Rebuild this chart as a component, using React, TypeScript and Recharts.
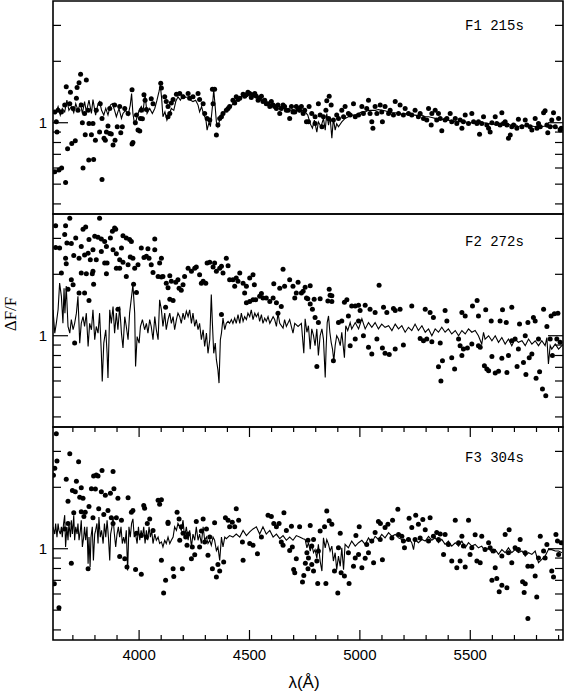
import React from 'react';
import { ComposedChart, Line, Scatter, XAxis, YAxis, ReferenceArea } from 'recharts';

// wavelength ticks (Angstrom) and flux-ratio ticks
const wlTicks = [3700, 3800, 3900, 4000, 4100, 4200, 4300, 4400, 4500, 4600, 4700, 4800, 4900, 5000, 5100, 5200, 5300, 5400, 5500, 5600, 5700, 5800, 5900];
const wlLabels = [4000, 4500, 5000, 5500];
const ratioTicks = [0.4, 0.5, 0.6, 0.7, 0.8, 0.9, 1, 2, 3];
const ratioLabels = [1];

const panelNames = ['F1 215s', 'F2 272s', 'F3 304s'];

// [wavelength, dF/F]
const f1Model = [
  [3610, 1.15], [3622, 1.11], [3633, 1.2], [3643, 1.09], [3652, 1.175], [3663, 1.13], [3673, 1.29], [3682, 1.15], [3693, 1.2], [3704, 1.12],
  [3713, 1.24], [3723, 1.15], [3734, 1.25], [3743, 1.11], [3753, 1.27], [3761, 1.13], [3773, 1.29], [3784, 1.11], [3791, 1.3], [3803, 1.09],
  [3814, 1.24], [3821, 1.27], [3830, 1.15], [3840, 1.09], [3849, 1.175], [3859, 1.09], [3870, 1.22], [3879, 1.24], [3889, 1.15], [3897, 1.07],
  [3909, 1.175], [3920, 1.05], [3927, 1.11], [3939, 1.15], [3950, 1.09], [3960, 1.22], [3966, 1.39], [3972, 1.11], [3980, 0.974], [3988, 1.04],
  [4000, 1.15], [4010, 1.2], [4018, 1.145], [4027, 1.37], [4036, 1.11], [4048, 1.175], [4060, 1.11], [4071, 1.175], [4081, 1.29], [4090, 1.42],
  [4096, 1.53], [4102, 1.32], [4108, 1.07], [4117, 1.13], [4126, 1.03], [4135, 1.09], [4146, 1.175], [4157, 1.15], [4166, 1.27], [4176, 1.34],
  [4187, 1.29], [4199, 1.37], [4211, 1.33], [4222, 1.34], [4232, 1.29], [4244, 1.27], [4256, 1.29], [4267, 1.22], [4274, 1.13], [4283, 1.2],
  [4293, 1.09], [4302, 1.05], [4308, 0.92], [4317, 1.01], [4323, 0.956], [4332, 1.2], [4338, 1.45], [4344, 1.22], [4350, 1.01], [4357, 0.956],
  [4365, 1.03], [4373, 1.09], [4383, 1.11], [4395, 1.15], [4410, 1.175], [4425, 1.24], [4440, 1.29], [4456, 1.32], [4471, 1.37], [4486, 1.34],
  [4501, 1.39], [4516, 1.34], [4531, 1.33], [4546, 1.3], [4561, 1.27], [4576, 1.25], [4592, 1.23], [4607, 1.22], [4622, 1.2], [4637, 1.2],
  [4652, 1.175], [4667, 1.175], [4682, 1.15], [4697, 1.16], [4712, 1.15], [4727, 1.13], [4743, 1.15], [4752, 1.13], [4764, 1.09], [4775, 0.99],
  [4785, 0.94], [4794, 1.03], [4805, 0.9], [4812, 1.01], [4824, 0.956], [4835, 1.05], [4843, 0.92], [4850, 1.11], [4858, 0.974], [4865, 1.07],
  [4873, 0.84], [4880, 1.05], [4888, 0.92], [4895, 0.99], [4903, 0.956], [4918, 1.01], [4933, 1.05], [4948, 1.07], [4963, 1.09], [4979, 1.09],
  [4994, 1.11], [5009, 1.13], [5024, 1.13], [5039, 1.15], [5054, 1.15], [5069, 1.15], [5084, 1.16], [5099, 1.15], [5114, 1.145], [5130, 1.13],
  [5145, 1.12], [5160, 1.12], [5175, 1.11], [5190, 1.1], [5205, 1.11], [5220, 1.09], [5235, 1.09], [5250, 1.09], [5265, 1.08], [5281, 1.09],
  [5296, 1.07], [5311, 1.07], [5326, 1.06], [5341, 1.05], [5356, 1.04], [5371, 1.04], [5386, 1.03], [5401, 1.03], [5416, 1.02], [5432, 1.01],
  [5447, 1.01], [5462, 1.03], [5477, 1.01], [5492, 1.0], [5507, 1.0], [5522, 1.01], [5537, 1.0], [5552, 0.99], [5567, 1.0], [5583, 0.985],
  [5598, 1.0], [5613, 0.974], [5628, 0.985], [5643, 0.99], [5658, 0.974], [5673, 0.985], [5688, 0.963], [5703, 0.985], [5718, 0.956], [5734, 0.974],
  [5749, 0.963], [5764, 0.956], [5779, 0.963], [5794, 0.956], [5809, 0.974], [5824, 0.956], [5839, 0.963], [5854, 0.949], [5869, 0.963], [5885, 0.956],
  [5900, 0.938], [5915, 0.956],
];

const f1Obs = [
  [3735, 1.73], [3761, 1.62], [3728, 1.57], [3719, 1.49], [3670, 1.5], [3689, 1.41], [3716, 1.32], [3625, 1.01], [3628, 0.9], [3637, 0.586],
  [3649, 0.6], [3618, 0.575], [3667, 0.51], [3676, 0.745], [3695, 0.79], [3711, 0.815], [3743, 1.0], [3746, 0.6], [3756, 0.874], [3772, 0.656],
  [3794, 0.66], [3784, 0.874], [3802, 0.82], [3773, 0.99], [3791, 0.99], [3821, 0.9], [3832, 1.05], [3841, 0.84], [3847, 0.82], [3852, 0.9],
  [3859, 0.963], [3867, 0.886], [3874, 0.88], [3882, 0.777], [3891, 0.82], [3901, 0.956], [3917, 0.894], [3924, 0.956], [3832, 0.527], [3968, 1.45],
  [3972, 0.8], [3968, 0.786], [3983, 1.0], [3995, 0.92], [4003, 0.91], [4006, 1.05], [4015, 1.045], [4022, 1.37], [4027, 1.29], [4033, 1.16],
  [4055, 1.31], [4063, 1.24], [4098, 1.56], [4101, 1.48], [4116, 1.34], [4123, 1.27], [4131, 1.2], [4139, 1.11], [4146, 1.25], [4154, 1.3],
  [4131, 1.07], [4169, 1.38], [4184, 1.39], [4199, 1.34], [4222, 1.39], [4229, 1.32], [4244, 1.34], [4267, 1.39], [4274, 1.3], [4290, 1.24],
  [4297, 1.11], [4308, 1.05], [4320, 1.03], [4332, 1.46], [4342, 1.46], [4335, 1.24], [4350, 0.87], [4357, 0.974], [4365, 1.05], [4373, 1.07],
  [4380, 1.11], [4395, 1.15], [4410, 1.2], [4425, 1.29], [4440, 1.34], [4456, 1.32], [4471, 1.38], [4486, 1.37], [4501, 1.39], [4516, 1.37],
  [4531, 1.35], [4546, 1.32], [4561, 1.27], [4576, 1.24], [4592, 1.2], [4607, 1.22], [4622, 1.175], [4637, 1.11], [4652, 1.22], [4667, 1.15],
  [4682, 1.05], [4697, 1.13], [4712, 1.2], [4727, 1.15], [4743, 1.11], [4758, 1.01],
  [3618, 1.13], [3633, 1.15], [3648, 1.13], [3663, 1.22], [3686, 1.24], [3701, 1.175], [3723, 1.15], [3738, 1.22], [3753, 1.11], [3769, 1.15],
  [3806, 1.15], [3824, 1.24], [3867, 1.175], [3889, 1.22], [3912, 1.2], [3935, 1.175], [3950, 1.11], [3988, 1.09], [4010, 1.15],
  [4403, 1.175], [4433, 1.25], [4448, 1.3], [4478, 1.35], [4493, 1.41], [4508, 1.33], [4524, 1.39], [4539, 1.29], [4554, 1.35], [4569, 1.29],
  [4584, 1.24], [4599, 1.27], [4614, 1.2], [4629, 1.22], [4644, 1.175], [4659, 1.2], [4675, 1.15], [4690, 1.2], [4705, 1.13], [4720, 1.175],
  [4735, 1.2], [4750, 1.15],
  [4770, 1.2], [4812, 1.24], [4861, 1.35], [4850, 1.28], [4870, 1.22], [4846, 1.15], [4767, 1.01], [4797, 0.99], [4828, 0.956], [4858, 1.05],
  [4895, 1.09], [4918, 1.15], [4933, 1.2], [4971, 1.24], [4948, 1.11], [4979, 1.07], [5009, 1.2], [5039, 1.29], [5031, 1.175], [5054, 1.01],
  [5059, 0.94], [5069, 1.2], [5092, 1.22], [5102, 1.01], [5114, 1.2], [5137, 1.15], [5160, 1.27], [5182, 1.22], [5205, 1.175], [5220, 1.11],
  [5250, 1.15], [5273, 1.11], [5311, 1.175], [5326, 1.11], [5341, 1.15], [5356, 1.11], [5323, 0.974], [5371, 0.914], [5386, 1.03], [5409, 1.11],
  [5432, 1.05], [5454, 1.03], [5462, 0.94], [5477, 1.09], [5507, 1.11], [5537, 1.01], [5542, 0.877], [5560, 1.07], [5583, 0.94], [5590, 0.9],
  [5613, 1.07], [5643, 1.12], [5658, 1.01], [5673, 0.84], [5681, 0.87], [5688, 0.956], [5718, 1.04], [5749, 1.03], [5779, 0.92], [5794, 1.05],
  [5809, 0.99], [5832, 1.12], [5839, 1.145], [5851, 0.894], [5869, 1.03], [5877, 1.12], [5900, 1.05], [5907, 0.92],
  [4782, 1.11], [4797, 1.07], [4820, 1.09], [4835, 1.07], [4880, 1.03], [4903, 1.05], [4926, 1.07], [4956, 1.09], [4994, 1.09], [5016, 1.11],
  [5046, 1.11], [5077, 1.11], [5099, 1.13], [5130, 1.11], [5152, 1.09], [5175, 1.11], [5197, 1.09], [5235, 1.09], [5265, 1.07], [5288, 1.05],
  [5303, 1.03], [5348, 1.03], [5364, 1.05], [5394, 1.05], [5416, 1.01], [5439, 0.99], [5469, 1.01], [5492, 0.99], [5515, 1.01], [5530, 0.99],
  [5552, 0.99], [5575, 0.974], [5598, 1.0], [5620, 0.99], [5635, 0.974], [5650, 0.99], [5666, 0.974], [5696, 0.974], [5711, 0.94], [5734, 0.956],
  [5756, 0.974], [5771, 0.956], [5802, 0.94], [5817, 0.956], [5847, 0.974], [5862, 0.956], [5885, 0.956], [5912, 0.94],
];

const f2Model = [
  [3610, 1.34], [3618, 1.03], [3625, 1.15], [3633, 1.34], [3640, 1.81], [3648, 1.56], [3655, 1.15], [3660, 1.71], [3664, 1.29], [3670, 1.75],
  [3678, 1.11], [3686, 1.03], [3693, 1.2], [3701, 1.07], [3708, 1.15], [3716, 1.29], [3723, 1.56], [3731, 0.92], [3738, 1.15], [3746, 1.24],
  [3753, 1.11], [3761, 1.29], [3769, 0.886], [3776, 1.15], [3784, 1.07], [3791, 1.34], [3799, 0.956], [3806, 1.11], [3814, 1.03], [3821, 1.29],
  [3829, 0.82], [3833, 0.597], [3840, 0.92], [3849, 1.07], [3855, 0.82], [3859, 0.62], [3867, 1.34], [3874, 1.15], [3882, 1.39], [3889, 1.03],
  [3897, 1.29], [3904, 1.07], [3912, 1.39], [3920, 1.03], [3927, 0.87], [3935, 1.24], [3942, 1.11], [3950, 0.956], [3957, 1.29], [3965, 1.53],
  [3972, 1.78], [3980, 1.29], [3984, 0.707], [3991, 0.99], [4000, 0.92], [4006, 1.11], [4015, 1.2], [4025, 1.07], [4033, 1.15], [4040, 1.03],
  [4048, 1.2], [4055, 1.11], [4063, 0.956], [4071, 1.24], [4078, 1.07], [4086, 0.956], [4093, 1.5], [4101, 1.34], [4108, 1.11], [4116, 1.29],
  [4123, 1.07], [4131, 1.2], [4139, 1.29], [4146, 1.15], [4154, 1.24], [4161, 1.07], [4169, 1.2], [4176, 1.29], [4184, 1.24], [4191, 1.15],
  [4199, 1.29], [4206, 1.2], [4214, 1.32], [4222, 1.24], [4229, 1.34], [4237, 1.15], [4244, 1.29], [4252, 1.11], [4259, 1.2], [4267, 1.07],
  [4274, 1.15], [4282, 0.956], [4290, 1.07], [4297, 0.886], [4305, 1.03], [4312, 0.82], [4320, 0.956], [4327, 1.59], [4332, 1.15], [4338, 0.82],
  [4345, 0.92], [4350, 0.763], [4357, 0.68], [4362, 0.586], [4368, 0.956], [4373, 1.03], [4380, 1.22], [4388, 1.07], [4395, 1.15], [4403, 1.175],
  [4410, 1.15], [4418, 1.2], [4425, 1.15], [4433, 1.22], [4440, 1.15], [4448, 1.27], [4456, 1.15], [4463, 1.29], [4471, 1.175], [4478, 1.24],
  [4486, 1.2], [4493, 1.29], [4501, 1.24], [4508, 1.34], [4516, 1.2], [4524, 1.29], [4531, 1.24], [4539, 1.29], [4546, 1.175], [4554, 1.27],
  [4561, 1.15], [4569, 1.22], [4576, 1.175], [4584, 1.24], [4592, 1.15], [4607, 1.24], [4614, 1.2], [4622, 1.11], [4629, 1.29], [4637, 1.15],
  [4652, 1.09], [4659, 1.2], [4667, 1.11], [4682, 1.2], [4697, 1.03], [4705, 1.15], [4720, 1.11], [4735, 1.15], [4746, 0.82], [4752, 1.21],
  [4760, 1.04], [4767, 1.12], [4775, 0.86], [4782, 1.08], [4790, 1.0], [4797, 0.894], [4805, 1.08], [4812, 0.8], [4820, 1.0], [4828, 1.08],
  [4835, 0.963], [4843, 0.625], [4847, 0.86], [4852, 1.16], [4858, 1.25], [4864, 1.04], [4870, 0.928], [4876, 0.86], [4882, 0.754], [4888, 0.894],
  [4895, 1.0], [4903, 0.963], [4911, 0.894], [4918, 1.04], [4926, 0.86], [4930, 0.78], [4936, 1.12], [4945, 1.06], [4956, 1.16], [4963, 1.08],
  [4979, 1.16], [4994, 1.08], [5009, 1.21], [5024, 1.08], [5039, 1.16], [5054, 1.1], [5069, 1.16], [5084, 1.08], [5099, 1.14], [5114, 1.1],
  [5130, 1.12], [5145, 1.06], [5160, 1.14], [5175, 1.08], [5190, 1.12], [5205, 1.04], [5220, 1.1], [5235, 1.06], [5250, 1.14], [5265, 1.06],
  [5281, 1.12], [5296, 1.04], [5311, 1.08], [5326, 1.0], [5341, 1.08], [5356, 1.04], [5371, 1.1], [5386, 1.04], [5401, 1.08], [5416, 1.02],
  [5432, 1.06], [5447, 1.0], [5462, 1.06], [5477, 1.02], [5492, 1.08], [5507, 1.04], [5522, 1.06], [5537, 1.0], [5552, 0.91], [5560, 1.04],
  [5567, 0.963], [5583, 1.0], [5598, 0.945], [5613, 1.0], [5628, 0.928], [5643, 0.98], [5658, 0.91], [5673, 0.963], [5688, 0.894], [5703, 0.963],
  [5718, 0.928], [5734, 0.945], [5749, 0.894], [5764, 0.963], [5779, 0.91], [5794, 0.945], [5809, 0.894], [5824, 0.945], [5839, 0.894], [5847, 0.98],
  [5854, 0.727], [5862, 0.894], [5869, 0.86], [5885, 0.91], [5900, 0.86], [5915, 0.894],
];

const f2Obs = [
  [3622, 3.46], [3667, 3.46], [3686, 3.77], [3821, 3.77], [3622, 2.71], [3640, 2.69], [3663, 3.13], [3673, 2.85], [3693, 2.83], [3713, 3.01],
  [3746, 3.33], [3758, 3.41], [3738, 2.74], [3773, 2.96], [3799, 3.07], [3814, 3.04], [3829, 2.98], [3844, 2.9], [3870, 3.01], [3879, 3.25],
  [3889, 3.37], [3894, 3.33], [3927, 3.09], [3942, 3.01], [3965, 2.9], [4071, 2.98], [3670, 2.25], [3667, 2.4], [3704, 2.47], [3728, 2.4],
  [3753, 2.49], [3769, 2.54], [3791, 2.64], [3829, 2.59], [3852, 2.74], [3882, 2.64], [3897, 2.52], [3920, 2.69], [3957, 2.96], [3779, 2.36],
  [3806, 2.36], [3844, 2.27], [3855, 2.27], [3912, 2.36], [3927, 2.29], [3960, 2.43], [3972, 2.4], [4010, 2.69], [4040, 2.67], [4022, 2.42],
  [4033, 2.45], [4045, 2.4], [4071, 2.64], [4101, 2.4], [4093, 2.27], [4055, 2.23], [3995, 2.23], [3980, 2.14], [3950, 2.23], [3942, 1.95],
  [3912, 2.14], [3897, 2.14], [3852, 2.01], [3791, 2.07], [3788, 2.01], [3738, 2.03], [3761, 2.01], [3648, 2.03], [3693, 1.88], [3701, 1.78],
  [3678, 1.69], [3728, 1.62], [3753, 1.62], [3773, 1.49], [3794, 1.79], [3975, 1.79], [3988, 1.63], [4063, 2.04], [4086, 1.95], [4101, 1.94],
  [4108, 1.95], [4123, 1.81], [4139, 1.97], [4146, 1.85], [4131, 1.72], [4166, 1.83], [4176, 1.88], [4181, 1.71], [4191, 1.67], [4199, 1.78],
  [4206, 1.95], [4222, 2.14], [4237, 2.07], [4252, 2.14], [4259, 2.17], [4274, 1.99], [4282, 1.81], [4290, 1.85], [4302, 1.81], [4308, 2.27],
  [4320, 2.29], [4335, 2.17], [4342, 2.27], [4350, 2.07], [4365, 2.14], [4373, 2.19], [4380, 2.03], [4395, 2.4], [4403, 2.2], [4410, 1.88],
  [4425, 1.88], [4433, 1.75], [4440, 1.92], [4456, 2.03], [4448, 1.85], [4471, 1.81], [4478, 1.62], [4486, 1.75], [4501, 1.92], [4516, 1.99],
  [4522, 1.78], [4528, 1.5], [4546, 1.56], [4561, 1.53], [4576, 1.53], [4554, 1.61], [4592, 1.47], [4607, 1.53], [4610, 1.8], [4637, 1.71],
  [4652, 2.12], [4659, 1.75], [4682, 1.88], [4697, 1.75], [4705, 1.53], [4712, 1.62], [4720, 1.83], [4735, 1.62], [4743, 1.65], [4758, 1.53],
  [4120, 1.38], [4139, 1.51], [4154, 1.49], [3904, 1.35], [3708, 0.92], [4486, 1.45], [4501, 1.47], [4516, 1.5], [4622, 1.45], [4629, 1.29],
  [4644, 1.39], [4373, 1.27],
  [4752, 1.73], [4775, 1.76], [4764, 1.52], [4775, 1.43], [4785, 1.35], [4793, 1.51], [4820, 1.52], [4861, 1.69], [4865, 1.58], [4873, 1.57],
  [4855, 1.48], [4873, 1.47], [4930, 1.46], [4941, 1.5], [4963, 1.4], [4979, 1.4], [4994, 1.41], [5001, 1.33], [5024, 1.41], [5046, 1.35],
  [5069, 1.3], [5087, 1.77], [5107, 1.38], [5122, 1.3], [5152, 1.36], [5160, 1.33], [5182, 1.35], [5235, 1.4], [5296, 1.35], [5318, 1.3],
  [5333, 1.23], [5386, 1.33], [5462, 1.3], [5477, 1.25], [5510, 1.4], [5531, 1.49], [5537, 1.25], [5570, 1.34], [5595, 1.18], [5635, 1.18],
  [5646, 1.34], [5663, 1.16], [5688, 1.38], [5723, 1.14], [5761, 1.16], [5786, 1.23], [5794, 1.18], [5832, 1.35], [5866, 1.25], [5881, 1.28],
  [5897, 1.29], [4812, 1.16], [4903, 1.16], [4918, 1.18], [4948, 1.25], [4994, 1.18], [5016, 1.0], [4979, 0.963], [4956, 0.894], [5039, 0.877],
  [5054, 0.813], [5077, 0.963], [5102, 0.87], [5114, 0.82], [5133, 0.81], [5160, 0.86], [5197, 0.9], [5273, 0.97], [5288, 0.945], [5303, 0.963],
  [5326, 0.935], [5364, 0.92], [5394, 1.18], [5416, 0.78], [5429, 0.686], [5356, 0.705], [5374, 0.754], [5367, 0.6], [5447, 0.963], [5454, 0.894],
  [5462, 0.8], [5469, 0.86], [5487, 0.87], [5507, 0.91], [5537, 0.894], [5545, 0.877], [5564, 0.713], [5575, 0.686], [5583, 0.674], [5598, 0.79],
  [5613, 0.656], [5628, 0.67], [5643, 0.775], [5666, 0.66], [5673, 0.8], [5688, 0.945], [5703, 0.963], [5718, 0.86], [5712, 0.707], [5741, 0.74],
  [5752, 0.646], [5767, 0.78], [5779, 0.813], [5798, 0.618], [5814, 0.666], [5827, 0.548], [5842, 0.508], [5809, 0.963], [5847, 1.11], [5862, 0.963],
  [5872, 0.8], [5892, 0.963], [5907, 0.928], [5749, 1.0], [4805, 0.707], [4880, 0.754], [4797, 1.23],
];

const f3Model = [
  [3610, 1.28], [3618, 1.18], [3622, 1.33], [3628, 1.14], [3633, 1.33], [3637, 1.23], [3643, 1.18], [3648, 1.28], [3652, 1.14], [3658, 1.33],
  [3663, 1.46], [3667, 1.02], [3673, 1.28], [3678, 1.1], [3682, 1.33], [3689, 1.14], [3693, 1.38], [3698, 1.18], [3704, 1.46], [3708, 1.1],
  [3713, 1.28], [3719, 1.18], [3723, 1.33], [3728, 1.1], [3734, 1.23], [3738, 1.38], [3743, 1.02], [3749, 1.14], [3753, 1.28], [3758, 1.1],
  [3764, 1.28], [3769, 0.845], [3773, 1.14], [3778, 0.813], [3782, 1.14], [3788, 1.28], [3793, 0.877], [3799, 1.18], [3803, 1.23], [3809, 1.33],
  [3814, 1.06], [3818, 1.43], [3824, 1.14], [3830, 1.23], [3837, 1.06], [3843, 1.33], [3849, 1.14], [3855, 1.38], [3861, 1.14], [3867, 0.877],
  [3871, 1.18], [3877, 1.28], [3882, 1.43], [3888, 1.18], [3894, 1.02], [3900, 1.18], [3906, 1.28], [3912, 1.14], [3918, 1.28], [3924, 1.06],
  [3930, 1.14], [3936, 1.06], [3942, 1.23], [3948, 0.783], [3954, 1.28], [3960, 1.14], [3966, 1.33], [3972, 1.4], [3978, 1.14], [3984, 1.18],
  [3991, 1.06], [3997, 1.28], [4003, 1.1], [4009, 1.23], [4015, 1.14], [4021, 1.28], [4027, 1.06], [4033, 1.23], [4039, 1.1], [4045, 1.28],
  [4051, 1.14], [4057, 1.23], [4063, 1.06], [4071, 1.18], [4078, 1.1], [4086, 1.14], [4093, 1.06], [4101, 1.08], [4108, 1.02], [4116, 1.1],
  [4123, 1.06], [4131, 1.14], [4139, 1.06], [4146, 1.1], [4154, 1.14], [4161, 1.28], [4169, 1.23], [4176, 1.33], [4184, 1.28], [4191, 1.23],
  [4199, 1.38], [4206, 1.14], [4214, 1.28], [4222, 1.1], [4229, 1.23], [4237, 1.02], [4244, 1.18], [4252, 1.1], [4259, 1.28], [4267, 1.1],
  [4274, 1.18], [4282, 1.06], [4290, 1.28], [4297, 1.1], [4305, 1.14], [4312, 1.06], [4320, 1.1], [4327, 1.04], [4335, 1.14], [4342, 1.1],
  [4350, 0.98], [4357, 1.02], [4365, 0.877], [4373, 1.14], [4380, 1.02], [4388, 1.14], [4395, 1.12], [4410, 1.16], [4425, 1.14], [4440, 1.18],
  [4456, 1.14], [4471, 1.23], [4486, 1.16], [4501, 1.21], [4516, 1.25], [4531, 1.28], [4546, 1.18], [4561, 1.28], [4576, 1.18], [4592, 1.23],
  [4607, 1.14], [4622, 1.18], [4637, 1.12], [4652, 1.16], [4667, 1.1], [4682, 1.14], [4697, 1.1], [4712, 1.16], [4727, 1.14], [4743, 1.12],
  [4752, 1.11], [4760, 1.01], [4767, 1.07], [4775, 0.974], [4782, 1.05], [4790, 0.956], [4797, 0.99], [4805, 0.9], [4812, 1.05], [4820, 0.87],
  [4828, 0.777], [4835, 1.13], [4843, 1.01], [4850, 1.11], [4858, 1.05], [4865, 0.974], [4873, 1.03], [4880, 0.87], [4888, 0.956], [4895, 0.79],
  [4903, 0.92], [4911, 0.82], [4918, 1.01], [4926, 0.79], [4933, 1.05], [4948, 1.01], [4963, 1.09], [4979, 1.03], [4994, 1.07], [5009, 1.1],
  [5024, 1.05], [5039, 1.13], [5054, 1.07], [5069, 1.15], [5084, 1.11], [5099, 1.175], [5114, 1.13], [5130, 1.2], [5145, 1.15], [5160, 1.175],
  [5175, 1.13], [5190, 1.11], [5205, 1.09], [5220, 1.13], [5235, 1.07], [5243, 0.99], [5250, 1.11], [5265, 1.07], [5281, 1.11], [5296, 1.09],
  [5311, 1.15], [5326, 1.1], [5341, 1.13], [5356, 1.07], [5371, 1.11], [5386, 1.05], [5401, 1.09], [5416, 1.03], [5432, 1.07], [5447, 1.03],
  [5462, 1.09], [5477, 1.01], [5492, 1.07], [5507, 1.03], [5522, 1.05], [5537, 1.01], [5552, 1.03], [5567, 0.974], [5583, 1.01], [5598, 0.956],
  [5613, 0.99], [5628, 0.938], [5643, 0.99], [5658, 0.956], [5673, 1.01], [5688, 0.956], [5703, 0.99], [5718, 0.956], [5734, 0.974], [5749, 0.92],
  [5764, 0.956], [5779, 0.938], [5794, 0.974], [5809, 0.854], [5824, 0.886], [5839, 0.92], [5854, 0.99], [5869, 0.99], [5885, 0.974], [5900, 0.974],
  [5915, 0.956],
];

const f3Obs = [
  [3625, 3.66], [3618, 2.48], [3628, 2.69], [3612, 2.29], [3686, 2.92], [3726, 2.67], [3670, 2.19], [3716, 2.14], [3698, 1.93], [3711, 1.9],
  [3738, 1.99], [3731, 1.79], [3746, 1.77], [3678, 1.71], [3784, 1.97], [3802, 1.96], [3794, 2.27], [3806, 2.3], [3814, 2.27], [3832, 2.42],
  [3829, 1.9], [3847, 1.83], [3870, 1.87], [3882, 2.39], [3886, 1.97], [3904, 1.77], [3950, 1.78], [3704, 1.5], [3738, 1.52], [3756, 1.51],
  [3750, 1.44], [3817, 1.57], [3840, 1.47], [3859, 1.54], [3791, 1.42], [3897, 1.42], [3920, 1.38], [3965, 1.51], [3972, 1.54], [4021, 1.63],
  [4025, 1.58], [4048, 1.4], [4086, 1.73], [4093, 1.65], [4101, 1.74], [4131, 1.35], [4131, 1.33], [4172, 1.51], [4181, 1.4], [4191, 1.28],
  [4063, 1.23], [4037, 1.33], [3988, 1.19], [4010, 1.16], [4033, 1.14], [3693, 0.85], [3769, 0.798], [3912, 0.917], [3935, 0.894], [3945, 0.813],
  [3984, 0.79], [4010, 0.75], [4101, 0.877], [4120, 0.7], [4111, 0.606], [4154, 0.798], [4157, 0.73], [4196, 0.798], [4217, 1.04], [4211, 1.14],
  [4237, 0.894], [4252, 0.935], [4259, 1.36], [4274, 1.02], [4290, 1.4], [4305, 1.25], [4312, 0.928], [4320, 1.14], [4332, 0.798], [4342, 1.34],
  [4350, 0.727], [4357, 0.838], [4365, 0.777], [4383, 0.86], [4391, 1.42], [4403, 1.38], [4410, 1.28], [4422, 1.35], [4433, 1.28], [4440, 1.57],
  [4451, 1.38], [4468, 1.08], [4471, 0.877], [4501, 1.06], [4516, 1.04], [4536, 0.945], [4554, 1.14], [4584, 1.46], [4599, 1.44], [4610, 1.33],
  [4622, 1.28], [4634, 1.33], [4644, 1.08], [4652, 1.04], [4656, 1.5], [4667, 1.23], [4682, 0.98], [4690, 1.29], [4694, 1.02], [4700, 0.79],
  [4705, 0.763], [4712, 0.894], [4727, 1.28], [4740, 0.686], [4746, 0.74], [4753, 0.85], [4765, 0.798], [4765, 1.1], [3874, 1.42], [3882, 1.33],
  [3678, 1.33], [3663, 1.25], [3616, 0.674], [3637, 0.514], [3773, 1.61], [4199, 1.19], [4184, 1.1], [4222, 1.18], [4241, 1.02], [4282, 1.22],
  [4297, 1.08],
  [4775, 1.3], [4820, 1.22], [4840, 1.28], [4850, 1.53], [4861, 1.37], [4873, 1.32], [4790, 1.11], [4760, 0.956], [4767, 0.9], [4782, 0.838],
  [4790, 0.777], [4805, 0.87], [4809, 0.676], [4846, 0.676], [4885, 0.777], [4900, 0.606], [4911, 1.19], [4915, 0.763], [4930, 0.735], [4951, 0.676],
  [4971, 0.82], [4979, 0.9], [4982, 1.16], [4997, 1.28], [5009, 0.807], [5024, 0.897], [5039, 0.956], [5062, 0.854], [5069, 1.2], [5084, 1.36],
  [5093, 1.33], [5102, 0.883], [5114, 1.27], [5127, 1.32], [5148, 1.38], [5172, 1.56], [5190, 1.15], [5202, 1.01], [5223, 1.41], [5235, 1.27],
  [5253, 1.46], [5265, 1.32], [5285, 1.39], [5296, 1.24], [5318, 1.42], [5333, 1.15], [5348, 1.2], [5364, 1.18], [5379, 0.938], [5386, 1.175],
  [5416, 0.87], [5432, 1.38], [5439, 0.807], [5454, 0.87], [5462, 1.15], [5477, 0.813], [5492, 1.38], [5499, 0.938], [5522, 1.17], [5530, 0.87],
  [5545, 0.854], [5552, 1.15], [5583, 1.07], [5590, 1.01], [5598, 0.7], [5613, 0.807], [5620, 0.715], [5631, 0.615], [5643, 0.663], [5658, 1.175],
  [5666, 0.644], [5676, 1.24], [5688, 0.854], [5703, 1.01], [5726, 1.11], [5737, 0.689], [5749, 0.674], [5761, 0.82], [5779, 0.82], [5794, 0.735],
  [5801, 0.58], [5817, 1.15], [5832, 0.974], [5847, 1.05], [5869, 0.777], [5877, 0.726], [5888, 1.175], [5895, 1.09], [5912, 1.07], [5761, 0.455],
  [5744, 0.61],
  [4782, 1.03], [4812, 0.974], [4903, 1.01], [4948, 0.956], [4994, 0.938], [5031, 1.05], [5054, 1.09], [5092, 1.11], [5145, 1.13], [5175, 1.175],
  [5197, 1.09], [5220, 1.11], [5250, 1.11], [5273, 1.13], [5311, 1.09], [5356, 1.11], [5401, 1.05], [5447, 1.07], [5469, 1.03], [5507, 1.01],
  [5567, 0.99], [5605, 0.974], [5643, 0.92], [5673, 0.956], [5718, 0.99], [5749, 0.956], [5809, 0.9], [5839, 0.9], [5900, 0.938],
];

const W = 567;
const PLOT_LEFT = 53;
const PLOT_RIGHT = 563;
const PLOT_TOP = 1;
const PLOT_H = 213;
const PLOT_BOTTOM = PLOT_TOP + PLOT_H;
const WL_DOMAIN: [number, number] = [3610, 5920];
const RATIO_DOMAIN: [number, number] = [0.357, 3.95];

const toPoints = (arr: number[][]) => arr.map(([x, y]) => ({ x, y }));

const Dot = (p: any) => <circle cx={p.cx} cy={p.cy} r={2.5} fill="#000" />;

interface PanelProps {
  top: number;
  name: string;
  nameTop: number;
  model: number[][];
  obs: number[][];
  bottomAxis?: boolean;
}

const Panel: React.FC<PanelProps> = ({ top, name, nameTop, model, obs, bottomAxis }) => {
  const h = bottomAxis ? 267 : 215;

  const renderXTick = (p: any) => {
    const x = p.x;
    const v = p.payload.value;
    const major = wlLabels.includes(v);
    const len = major ? 10 : 5;
    return (
      <g>
        <line x1={x} x2={x} y1={PLOT_TOP} y2={PLOT_TOP + len} stroke="#000" strokeWidth={1.2} />
        <line x1={x} x2={x} y1={PLOT_BOTTOM - len} y2={PLOT_BOTTOM} stroke="#000" strokeWidth={1.2} />
        {bottomAxis && major && (
          <text x={x} y={PLOT_BOTTOM + 20} textAnchor="middle" fontSize={15} fontFamily="'Liberation Sans', Arial, sans-serif" fill="#000">
            {v}
          </text>
        )}
      </g>
    );
  };

  const renderYTick = (p: any) => {
    const y = p.y;
    const v = p.payload.value;
    const major = ratioLabels.includes(v);
    const len = major ? 15 : 8;
    return (
      <g>
        <line x1={PLOT_LEFT} x2={PLOT_LEFT + len} y1={y} y2={y} stroke="#000" strokeWidth={1.2} />
        <line x1={PLOT_RIGHT - len} x2={PLOT_RIGHT} y1={y} y2={y} stroke="#000" strokeWidth={1.2} />
        {major && (
          <text x={47} y={y} dy="0.36em" textAnchor="end" fontSize={15} fontFamily="'Liberation Sans', Arial, sans-serif" fill="#000">
            {v}
          </text>
        )}
      </g>
    );
  };

  return (
    <div style={{ position: 'absolute', left: 0, top, width: W, height: h }}>
      <ComposedChart width={W} height={h} margin={{ top: PLOT_TOP, right: W - PLOT_RIGHT, bottom: bottomAxis ? 0 : 1, left: 0 }}>
        <XAxis
          type="number"
          dataKey="x"
          domain={WL_DOMAIN}
          allowDataOverflow
          ticks={wlTicks}
          interval={0}
          height={bottomAxis ? 53 : 0}
          axisLine={false}
          tickLine={false}
          tick={renderXTick}
        />
        <YAxis
          type="number"
          dataKey="y"
          scale="log"
          domain={RATIO_DOMAIN}
          allowDataOverflow
          ticks={ratioTicks}
          interval={0}
          width={PLOT_LEFT}
          axisLine={false}
          tickLine={false}
          tick={renderYTick}
        />
        <ReferenceArea x1={WL_DOMAIN[0]} x2={WL_DOMAIN[1]} y1={RATIO_DOMAIN[0]} y2={RATIO_DOMAIN[1]} fill="none" stroke="#000" strokeWidth={1.6} />
        <Line data={toPoints(model)} dataKey="y" stroke="#000" strokeWidth={1.1} dot={false} isAnimationActive={false} />
        <Scatter data={toPoints(obs)} dataKey="y" fill="#000" shape={Dot} isAnimationActive={false} />
      </ComposedChart>
      <div
        style={{
          position: 'absolute',
          left: 465,
          top: nameTop,
          fontFamily: "'Liberation Mono', 'Courier New', monospace",
          fontSize: 14,
          color: '#000',
          whiteSpace: 'pre',
        }}
      >
        {name}
      </div>
    </div>
  );
};

const App: React.FC = () => {
  return (
    <div style={{ position: 'absolute', left: 0, top: 0, width: W, height: 693, background: '#fff' }}>
      <Panel top={0} name={panelNames[0]} nameTop={18} model={f1Model} obs={f1Obs} />
      <Panel top={213} name={panelNames[1]} nameTop={21} model={f2Model} obs={f2Obs} />
      <Panel top={426} name={panelNames[2]} nameTop={24} model={f3Model} obs={f3Obs} bottomAxis />
      <svg width={W} height={693} style={{ position: 'absolute', left: 0, top: 0, pointerEvents: 'none' }}>
        <text x={16} y={314} transform="rotate(-90 16 314)" textAnchor="middle" fontSize={17} fontFamily="'Liberation Serif', 'Times New Roman', serif" fill="#000">
          ΔF/F
        </text>
        <text x={304} y={688} textAnchor="middle" fontSize={17} fontFamily="'Liberation Sans', Arial, sans-serif" fill="#000">
          λ(Å)
        </text>
      </svg>
    </div>
  );
};

export default App;
